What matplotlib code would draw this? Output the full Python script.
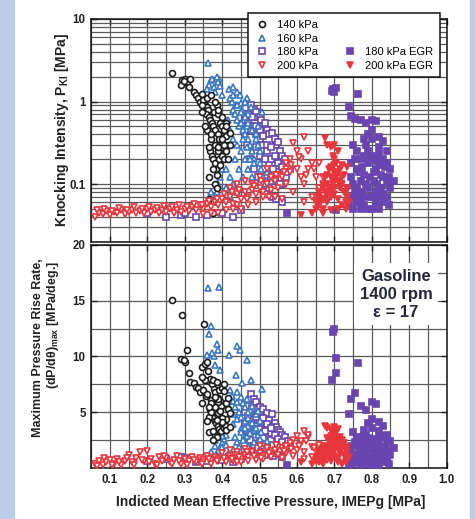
import matplotlib
matplotlib.use('Agg')
import matplotlib.pyplot as plt
from matplotlib.patches import Rectangle
from matplotlib.lines import Line2D
from matplotlib.ticker import LogLocator, MultipleLocator, NullFormatter

# ---- data: IMEPg [MPa], knock intensity [MPa], dP/dtheta max [MPa/deg]
x140 = [0.266, 0.292, 0.290, 0.300, 0.305, 0.310, 0.298, 0.315, 0.325, 0.330, 0.335, 0.340,
        0.345, 0.352, 0.355, 0.360, 0.362, 0.350, 0.358, 0.365, 0.368, 0.372, 0.375, 0.378,
        0.382, 0.385, 0.388, 0.392, 0.395, 0.398, 0.400, 0.405, 0.410, 0.415, 0.420, 0.368,
        0.372, 0.376, 0.380, 0.384, 0.388, 0.392, 0.396, 0.400, 0.405, 0.410, 0.380, 0.385,
        0.365, 0.375, 0.365, 0.370, 0.390, 0.360, 0.345,
        0.370, 0.380, 0.390, 0.400, 0.410, 0.360, 0.370, 0.380, 0.390, 0.400, 0.410, 0.420,
        0.375, 0.385, 0.395, 0.405, 0.415, 0.365, 0.355, 0.345]
pki140 = [2.2, 1.8, 1.6, 1.9, 1.7, 1.5, 1.75, 1.85, 1.3, 1.2, 1.1, 1.0,
          1.25, 0.95, 0.9, 0.85, 0.8, 1.05, 0.7, 0.65, 0.6, 0.55, 0.5, 0.75,
          0.45, 0.9, 0.4, 0.35, 0.55, 0.3, 0.5, 0.45, 0.38, 0.3, 0.42, 0.25,
          0.22, 0.2, 0.18, 0.15, 0.25, 0.2, 0.28, 0.22, 0.2, 0.25, 0.1, 0.09,
          0.065, 0.045, 0.12, 0.35, 0.7, 1.1, 0.9,
          1.2, 1.0, 0.8, 0.65, 0.55, 0.45, 0.4, 0.3, 0.28, 0.35, 0.5, 0.3,
          0.15, 0.13, 0.17, 0.3, 0.2, 0.28, 0.5, 0.75]
dp140 = [15.1, 13.7, 9.8, 9.5, 10.6, 8.5, 9.7, 7.7, 7.6, 7.3, 7.2, 6.8,
         9.1, 12.9, 9.3, 9.5, 8.7, 7.0, 6.5, 7.8, 8.0, 7.5, 7.9, 7.1,
         6.8, 7.7, 6.3, 7.0, 6.0, 5.6, 7.2, 6.9, 5.8, 5.3, 4.9, 5.2,
         4.8, 4.5, 4.2, 4.0, 3.8, 3.5, 3.3, 3.9, 3.6, 4.4, 3.0, 2.8,
         3.2, 2.5, 4.6, 6.1, 5.9, 6.6, 5.8,
         5.0, 5.5, 6.2, 4.5, 3.8, 4.2, 5.8, 6.4, 4.9, 4.1, 3.4, 3.7,
         3.3, 4.3, 5.1, 7.5, 6.3, 5.5, 7.9, 8.2]

x160 = [0.363, 0.392, 0.370, 0.366, 0.387, 0.390, 0.378, 0.360, 0.372, 0.417, 0.440, 0.447,
        0.467, 0.436, 0.454, 0.476, 0.507, 0.380, 0.395, 0.425, 0.430, 0.435, 0.440, 0.445,
        0.450, 0.455, 0.460, 0.465, 0.470, 0.475, 0.480, 0.485, 0.490, 0.495, 0.500, 0.505,
        0.510, 0.515, 0.520, 0.530, 0.450, 0.460, 0.470, 0.480, 0.455, 0.440, 0.430, 0.420,
        0.415, 0.410, 0.405, 0.400, 0.395, 0.390, 0.385, 0.380, 0.375, 0.370, 0.410, 0.420,
        0.430, 0.440, 0.450, 0.460, 0.470, 0.420, 0.430, 0.400,
        0.430, 0.440, 0.450, 0.460, 0.470, 0.480, 0.490, 0.500, 0.455, 0.465, 0.475, 0.485,
        0.380, 0.390, 0.400, 0.410, 0.420, 0.435, 0.445, 0.495]
pki160 = [2.9, 1.9, 1.8, 1.6, 2.0, 1.7, 1.5, 1.4, 1.9, 1.4, 1.3, 1.2,
          1.1, 0.9, 0.8, 0.85, 0.75, 1.3, 1.55, 1.0, 0.8, 0.7, 0.6, 0.5,
          0.55, 0.45, 0.4, 0.5, 0.35, 0.3, 0.25, 0.2, 0.4, 0.3, 0.18, 0.15,
          0.12, 0.1, 0.14, 0.11, 0.25, 0.2, 0.15, 0.12, 0.12, 0.3, 0.35, 0.45,
          0.6, 0.3, 0.2, 0.15, 0.12, 0.1, 0.08, 0.07, 0.06, 0.08, 0.09, 0.07,
          0.1, 0.08, 0.95, 1.0, 0.7, 1.1, 1.5, 1.2,
          1.2, 0.9, 0.75, 0.65, 0.55, 0.45, 0.35, 0.25, 0.35, 0.28, 0.2, 0.18,
          0.2, 0.25, 0.3, 0.15, 0.12, 0.2, 0.15, 0.5]
dp160 = [16.1, 16.2, 12.7, 12.0, 11.1, 10.6, 10.0, 10.1, 10.3, 10.1, 10.9, 10.6,
         9.7, 8.3, 7.6, 7.9, 7.1, 9.2, 8.8, 6.5, 6.0, 5.5, 6.8, 5.0,
         4.6, 5.8, 4.2, 6.2, 3.8, 5.2, 4.0, 3.4, 4.8, 3.0, 2.6, 3.2,
         2.2, 1.8, 2.4, 1.5, 3.5, 2.8, 2.0, 1.6, 1.2, 4.4, 3.9, 5.3,
         5.6, 3.0, 2.6, 2.2, 1.8, 1.5, 1.2, 2.0, 1.0, 1.4, 1.1, 0.9,
         1.7, 2.3, 6.4, 5.5, 5.0, 7.0, 6.0, 2.9,
         4.8, 5.9, 3.2, 3.6, 4.5, 5.6, 3.6, 4.2, 2.5, 2.9, 3.1, 2.3,
         2.5, 3.0, 1.9, 2.1, 1.6, 2.8, 1.9, 5.1]

x180 = [0.478, 0.485, 0.470, 0.490, 0.500, 0.505, 0.510, 0.515, 0.520, 0.525, 0.532, 0.540,
        0.545, 0.550, 0.555, 0.560, 0.567, 0.575, 0.580, 0.570, 0.560, 0.550, 0.540, 0.530,
        0.520, 0.510, 0.500, 0.490, 0.480, 0.470, 0.465, 0.475, 0.485, 0.495, 0.505, 0.515,
        0.525, 0.535, 0.545, 0.500, 0.510, 0.520, 0.530, 0.460, 0.490, 0.200, 0.250, 0.290,
        0.300, 0.330, 0.360, 0.400, 0.430, 0.450, 0.560,
        0.460, 0.470, 0.480, 0.490, 0.500, 0.510, 0.520, 0.530, 0.540, 0.550, 0.560, 0.570,
        0.515, 0.535, 0.555]
pki180 = [0.9, 0.8, 0.7, 0.75, 0.65, 0.6, 0.5, 0.55, 0.45, 0.4, 0.42, 0.35,
          0.3, 0.32, 0.25, 0.22, 0.2, 0.17, 0.15, 0.12, 0.1, 0.14, 0.18, 0.2,
          0.25, 0.3, 0.35, 0.4, 0.5, 0.45, 0.3, 0.2, 0.15, 0.12, 0.1, 0.08,
          0.09, 0.07, 0.065, 0.22, 0.18, 0.13, 0.12, 0.6, 0.28, 0.045, 0.04, 0.042,
          0.045, 0.04, 0.042, 0.045, 0.04, 0.048, 0.06,
          0.45, 0.55, 0.65, 0.5, 0.45, 0.38, 0.3, 0.28, 0.22, 0.18, 0.16, 0.14,
          0.2, 0.15, 0.1]
dp180 = [6.6, 6.2, 5.6, 5.9, 5.5, 5.0, 5.3, 4.6, 4.9, 4.3, 4.8, 4.0,
         3.7, 3.4, 3.2, 3.0, 2.8, 2.4, 2.0, 1.7, 1.5, 2.2, 2.6, 3.1,
         3.6, 3.9, 4.2, 3.3, 4.4, 3.6, 2.9, 2.5, 2.0, 1.8, 1.4, 1.2,
         1.6, 1.1, 1.3, 2.3, 2.7, 2.0, 2.5, 4.0, 3.8, 0.6, 0.8, 1.0,
         0.9, 0.5, 0.6, 0.7, 0.5, 0.8, 1.0,
         5.0, 4.7, 5.4, 4.6, 3.5, 4.5, 3.9, 3.6, 3.0, 2.6, 2.3, 2.0,
         3.3, 2.1, 1.7]

x200 = [0.06, 0.07, 0.08, 0.09, 0.10, 0.11, 0.12, 0.13, 0.14, 0.15, 0.16, 0.17,
        0.18, 0.19, 0.20, 0.21, 0.22, 0.23, 0.24, 0.25, 0.26, 0.27, 0.28, 0.29,
        0.30, 0.31, 0.32, 0.33, 0.34, 0.35, 0.36, 0.37, 0.38, 0.39, 0.40, 0.41,
        0.42, 0.43, 0.44, 0.45, 0.46, 0.47, 0.48, 0.49, 0.50, 0.51, 0.52, 0.53,
        0.54, 0.55, 0.56, 0.57, 0.58, 0.59, 0.60, 0.61, 0.62, 0.63, 0.64, 0.65,
        0.66, 0.62, 0.60, 0.61, 0.63, 0.58, 0.57, 0.55, 0.53, 0.51, 0.49, 0.47,
        0.45, 0.43, 0.41, 0.39, 0.37, 0.35, 0.56, 0.59, 0.62, 0.64, 0.66, 0.67,
        0.42, 0.44, 0.46, 0.48, 0.50, 0.52, 0.54, 0.57, 0.44,
        0.065, 0.085, 0.105, 0.125, 0.145, 0.165, 0.185, 0.205, 0.225, 0.245, 0.265, 0.285,
        0.305, 0.325, 0.345, 0.365, 0.385, 0.405, 0.425, 0.445, 0.465, 0.485, 0.505, 0.525,
        0.545, 0.565, 0.585, 0.605, 0.625, 0.645]
pki200 = [0.040, 0.045, 0.043, 0.047, 0.042, 0.046, 0.044, 0.048, 0.043, 0.046, 0.049, 0.044,
          0.047, 0.045, 0.050, 0.046, 0.048, 0.044, 0.049, 0.046, 0.050, 0.045, 0.048, 0.046,
          0.050, 0.047, 0.052, 0.049, 0.055, 0.050, 0.058, 0.053, 0.060, 0.055, 0.065, 0.060,
          0.070, 0.058, 0.075, 0.065, 0.080, 0.070, 0.085, 0.075, 0.090, 0.080, 0.10, 0.085,
          0.11, 0.09, 0.12, 0.10, 0.14, 0.31, 0.15, 0.20, 0.375, 0.25, 0.18, 0.12,
          0.09, 0.10, 0.25, 0.12, 0.15, 0.20, 0.15, 0.13, 0.12, 0.07, 0.06, 0.055,
          0.05, 0.05, 0.048, 0.045, 0.044, 0.043, 0.065, 0.08, 0.06, 0.07, 0.18, 0.12,
          0.09, 0.10, 0.11, 0.10, 0.12, 0.15, 0.07, 0.18, 0.055,
          0.048, 0.05, 0.047, 0.051, 0.049, 0.052, 0.05, 0.053, 0.051, 0.054, 0.052, 0.055,
          0.053, 0.058, 0.056, 0.062, 0.065, 0.075, 0.08, 0.085, 0.065, 0.095, 0.11, 0.07,
          0.13, 0.14, 0.17, 0.21, 0.13, 0.15]
dp200 = [0.4, 0.6, 0.3, 0.5, 0.7, 0.4, 0.8, 0.3, 0.6, 1.2, 0.5, 0.9,
         1.4, 0.6, 1.5, 0.8, 0.4, 1.0, 0.6, 0.9, 0.5, 0.7, 1.1, 0.4,
         0.8, 0.6, 1.0, 0.5, 0.9, 0.7, 1.1, 0.6, 1.0, 0.8, 1.3, 0.7,
         1.1, 0.9, 1.4, 0.8, 1.2, 1.0, 1.5, 0.9, 1.3, 1.1, 1.6, 1.0,
         1.4, 1.2, 1.8, 1.3, 2.0, 2.5, 1.6, 2.2, 3.3, 2.8, 1.9, 1.5,
         1.2, 1.4, 2.9, 2.4, 3.0, 2.2, 1.7, 1.9, 1.5, 0.8, 0.7, 0.6,
         0.5, 0.6, 0.5, 0.6, 0.4, 0.5, 0.9, 1.1, 0.8, 1.0, 2.1, 1.6,
         1.6, 1.2, 1.7, 1.4, 2.0, 1.8, 1.6, 2.0, 0.5,
         0.2, 0.9, 0.3, 0.5, 0.9, 0.3, 0.7, 0.5, 0.3, 1.1, 0.4, 0.6,
         0.3, 0.7, 0.4, 0.8, 0.6, 0.9, 0.8, 1.0, 1.4, 1.1, 0.9, 1.3,
         2.1, 1.5, 1.7, 2.0, 2.4, 1.8]

x180e = [0.696, 0.700, 0.705, 0.693, 0.704, 0.764, 0.740, 0.745, 0.755, 0.770, 0.785, 0.800,
         0.810, 0.820, 0.830, 0.790, 0.800, 0.840, 0.850, 0.860, 0.750, 0.760, 0.770, 0.780,
         0.790, 0.800, 0.810, 0.820, 0.830, 0.840, 0.850, 0.745, 0.750, 0.755, 0.760, 0.765,
         0.770, 0.775, 0.780, 0.785, 0.790, 0.795, 0.800, 0.805, 0.810, 0.815, 0.820, 0.825,
         0.830, 0.835, 0.840, 0.845, 0.740, 0.750, 0.760, 0.770, 0.780, 0.790, 0.800, 0.810,
         0.820, 0.760, 0.770, 0.790, 0.810, 0.830, 0.820, 0.573,
         0.745, 0.755, 0.765, 0.775, 0.785, 0.795, 0.805, 0.815, 0.825, 0.835, 0.845, 0.750,
         0.770, 0.790, 0.810, 0.830, 0.780, 0.800, 0.820, 0.840]
pki180e = [1.4, 1.3, 1.45, 1.35, 0.048, 1.23, 0.85, 0.67, 0.62, 0.6, 0.55, 0.6,
           0.58, 0.37, 0.33, 0.4, 0.35, 0.25, 0.15, 0.11, 0.3, 0.25, 0.2, 0.22,
           0.18, 0.2, 0.15, 0.17, 0.12, 0.1, 0.09, 0.12, 0.1, 0.08, 0.09, 0.07,
           0.11, 0.08, 0.13, 0.1, 0.09, 0.12, 0.07, 0.11, 0.08, 0.1, 0.065, 0.09,
           0.075, 0.06, 0.07, 0.055, 0.055, 0.05, 0.06, 0.05, 0.055, 0.05, 0.05, 0.055,
           0.05, 0.15, 0.14, 0.25, 0.22, 0.2, 0.28, 0.045,
           0.18, 0.2, 0.14, 0.16, 0.3, 0.22, 0.14, 0.19, 0.13, 0.16, 0.12, 0.07,
           0.065, 0.07, 0.065, 0.06, 0.35, 0.45, 0.23, 0.18]
dp180e = [12.2, 12.5, 9.9, 7.9, 8.5, 9.4, 4.8, 6.2, 6.7, 5.6, 5.2, 5.9,
          5.7, 4.1, 3.8, 4.0, 3.6, 3.0, 2.4, 1.8, 3.2, 2.8, 2.5, 3.0,
          2.2, 2.6, 2.0, 2.3, 1.7, 1.5, 1.2, 1.4, 1.0, 0.7, 1.2, 0.5,
          1.6, 0.9, 1.9, 1.3, 0.8, 1.7, 0.6, 1.5, 1.0, 1.4, 0.7, 1.1,
          0.9, 0.5, 0.8, 0.4, 0.3, 0.4, 0.6, 0.3, 0.5, 0.4, 0.3, 0.4,
          0.3, 2.1, 1.8, 2.7, 2.5, 2.9, 3.3, 0.3,
          2.0, 2.3, 1.5, 2.4, 3.0, 2.0, 1.2, 2.2, 1.6, 1.9, 1.3, 0.8,
          0.6, 0.9, 0.7, 0.6, 3.4, 4.4, 2.8, 2.2]

x200e = [0.675, 0.680, 0.690, 0.695, 0.700, 0.705, 0.710, 0.715, 0.720, 0.700, 0.690, 0.680,
         0.670, 0.660, 0.655, 0.650, 0.660, 0.670, 0.680, 0.690, 0.700, 0.710, 0.720, 0.730,
         0.735, 0.740, 0.730, 0.720, 0.710, 0.700, 0.690, 0.680, 0.670, 0.660, 0.650, 0.640,
         0.675, 0.685, 0.695, 0.705, 0.715, 0.725, 0.735, 0.710, 0.690, 0.670, 0.610, 0.700,
         0.735,
         0.665, 0.675, 0.685, 0.695, 0.705, 0.715, 0.725, 0.660, 0.670, 0.680, 0.690, 0.700,
         0.710, 0.720, 0.730]
pki200e = [0.36, 0.3, 0.28, 0.22, 0.2, 0.18, 0.25, 0.15, 0.17, 0.14, 0.12, 0.1,
           0.09, 0.08, 0.07, 0.06, 0.055, 0.05, 0.06, 0.07, 0.09, 0.11, 0.1, 0.08,
           0.07, 0.06, 0.05, 0.055, 0.065, 0.075, 0.085, 0.075, 0.065, 0.06, 0.05, 0.045,
           0.12, 0.15, 0.1, 0.12, 0.09, 0.13, 0.09, 0.05, 0.048, 0.045, 0.042, 0.3,
           0.16,
           0.065, 0.08, 0.09, 0.11, 0.13, 0.1, 0.08, 0.07, 0.1, 0.13, 0.16, 0.17,
           0.14, 0.12, 0.06]
dp200e = [3.8, 3.6, 3.4, 3.0, 3.7, 3.2, 3.5, 2.8, 2.5, 2.6, 2.2, 1.9,
          1.6, 1.3, 1.0, 0.8, 0.5, 0.4, 0.7, 1.2, 1.5, 1.8, 2.1, 1.7,
          1.4, 1.0, 0.6, 0.4, 0.9, 1.1, 1.7, 1.4, 1.1, 0.9, 0.6, 0.4,
          2.0, 2.4, 1.9, 2.3, 1.3, 2.2, 0.8, 0.5, 0.6, 0.8, 0.5, 3.0,
          1.9,
          0.6, 0.9, 1.3, 1.6, 2.0, 1.5, 1.2, 1.4, 1.8, 2.7, 2.9, 3.3,
          2.6, 1.9, 0.5]

black = '#1c1c1c'
blue = '#3b78c4'
purple = '#6845b0'
red = '#e8363c'
txt = '#222222'

plt.rcParams['font.family'] = ['Liberation Sans', 'DejaVu Sans']
plt.rcParams['font.weight'] = 'bold'
plt.rcParams['mathtext.fontset'] = 'custom'
plt.rcParams['mathtext.rm'] = 'Liberation Sans:bold'
plt.rcParams['mathtext.it'] = 'Liberation Sans:bold'
plt.rcParams['mathtext.default'] = 'regular'

fig = plt.figure(figsize=(4.75, 5.19), dpi=100)
fig.patch.set_facecolor('white')
# light blue side bands of the page
fig.add_artist(Rectangle((0, 0), 14 / 475, 1, transform=fig.transFigure, color='#bccde6', zorder=0))
fig.add_artist(Rectangle((470 / 475, 0), 5 / 475, 1, transform=fig.transFigure, color='#bccde6', zorder=0))

ax1 = fig.add_axes([0.1922, 0.5343, 0.748, 0.4291])
ax2 = fig.add_axes([0.1922, 0.0983, 0.748, 0.4297])

series = [
    (x180, pki180, dp180, 's', purple, False, '180 kPa'),
    (x160, pki160, dp160, '^', blue, False, '160 kPa'),
    (x140, pki140, dp140, 'o', black, False, '140 kPa'),
    (x200, pki200, dp200, 'v', red, False, '200 kPa'),
    (x180e, pki180e, dp180e, 's', purple, True, '180 kPa EGR'),
    (x200e, pki200e, dp200e, 'v', red, True, '200 kPa EGR'),
]

handles = {}
for xs, pk, dp, m, c, filled, lab in series:
    fc = c if filled else 'white'
    ms = 4.5 if m != 'o' else 4.3
    kw = dict(linestyle='none', marker=m, ms=ms, mfc=fc, mec=c, mew=1.2, zorder=3)
    h, = ax1.plot(xs, pk, label=lab, **kw)
    ax2.plot(xs, dp, **kw)
    handles[lab] = h

for ax in (ax1, ax2):
    ax.set_xlim(0.05, 1.0)
    ax.xaxis.set_major_locator(MultipleLocator(0.1))
    ax.xaxis.set_minor_locator(MultipleLocator(0.05))
    ax.grid(True, which='both', color='#5a5a5a', lw=0.9)
    ax.set_axisbelow(True)
    ax.tick_params(which='both', direction='in', top=True, right=True, colors=txt,
                   labelsize=8.3, pad=4)
    ax.tick_params(which='major', length=4, width=1)
    ax.tick_params(which='minor', length=0)
    for s in ax.spines.values():
        s.set_color('#111111')
        s.set_linewidth(1.1)

ax1.set_yscale('log')
ax1.set_ylim(0.02, 10)
ax1.set_yticks([0.1, 1, 10])
ax1.set_yticklabels(['0.1', '1', '10'])
ax1.yaxis.set_minor_locator(LogLocator(base=10, subs=range(2, 10), numticks=20))
ax1.yaxis.set_minor_formatter(NullFormatter())
ax1.tick_params(labelbottom=False)

ax2.set_ylim(0, 20)
ax2.set_yticks([5, 10, 15, 20])
ax2.yaxis.set_minor_locator(MultipleLocator(2.5))
ax2.set_xticks([0.1, 0.2, 0.3, 0.4, 0.5, 0.6, 0.7, 0.8, 0.9, 1.0])
ax2.set_xticklabels(['0.1', '0.2', '0.3', '0.4', '0.5', '0.6', '0.7', '0.8', '0.9', '1.0'])

ax2.text(0.8645, 15.6, 'Gasoline\n1400 rpm\n\u03b5 = 17', ha='center', va='center',
         fontsize=12, color='#26263a', linespacing=1.25, zorder=4,
         bbox=dict(fc='white', ec='none', pad=4))

# legend (sits partly above the upper panel)
blank = Line2D([], [], linestyle='none')
hl = [handles['140 kPa'], handles['160 kPa'], handles['180 kPa'], handles['200 kPa'],
      blank, blank, handles['180 kPa EGR'], handles['200 kPa EGR']]
ll = ['140 kPa', '160 kPa', '180 kPa', '200 kPa', '', '', '180 kPa EGR', '200 kPa EGR']
leg = fig.legend(hl, ll, ncol=2, loc='upper right', bbox_to_anchor=(0.937, 0.985),
                 prop={'size': 8, 'weight': 'normal'}, frameon=True, fancybox=False,
                 edgecolor='#111111', framealpha=1, labelspacing=0.32, handletextpad=0.7,
                 columnspacing=2.2, borderpad=0.6, handlelength=1.3)
leg.get_frame().set_linewidth(1.1)
leg.set_zorder(5)

fig.text(0.5705, 0.0328, 'Indicted Mean Effective Pressure, IMEPg [MPa]', ha='center',
         va='center', fontsize=10, color=txt)
fig.text(0.1305, 0.749, 'Knocking Intensity, P$_{KI}$ [MPa]', rotation=90, ha='center',
         va='center', fontsize=10, color=txt)
fig.text(38 / 475, 1 - 348 / 519, 'Maximum Pressure Rise Rate,', rotation=90, ha='center',
         va='center', fontsize=9, color=txt)
fig.text(53 / 475, 1 - 325 / 519, '(dP/d\u03b8)$_{max}$ [MPa/deg.]', rotation=90, ha='center',
         va='center', fontsize=9, color=txt)

fig.savefig('out.png', dpi=100)
